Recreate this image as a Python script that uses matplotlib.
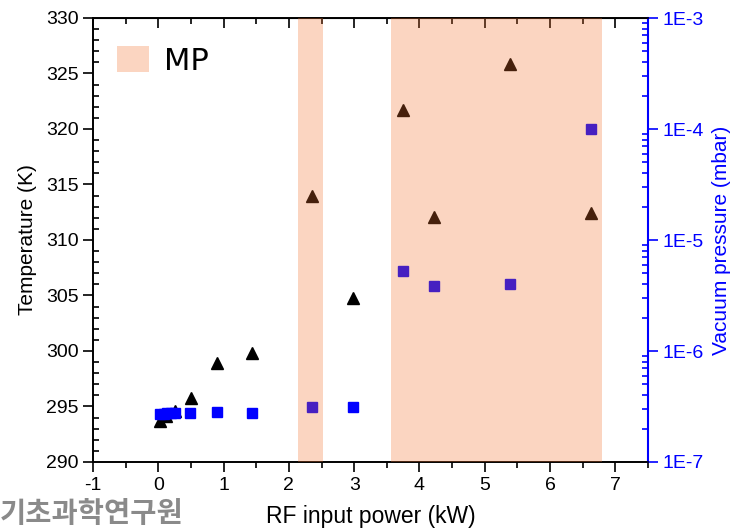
import matplotlib
matplotlib.use("Agg")
import matplotlib.pyplot as plt
import numpy as np
from matplotlib.ticker import FuncFormatter, LogLocator, MultipleLocator, NullFormatter
from matplotlib.patches import Patch

plt.rcParams['font.family'] = ['Liberation Sans', 'DejaVu Sans']
plt.rcParams['axes.unicode_minus'] = False

# Temperature data (triangles)
temp_power = [0.03, 0.12, 0.26, 0.5, 0.9, 1.44, 2.35, 2.98, 3.75, 4.23, 5.38, 6.63]
temp_K = [293.7, 294.1, 294.6, 295.8, 298.9, 299.8, 314.0, 304.8, 321.7, 312.1, 325.9, 312.4]

# Vacuum pressure data (squares)
pres_power = [0.02, 0.08, 0.14, 0.2, 0.26, 0.48, 0.9, 1.44, 2.35, 2.98, 3.75, 4.23, 5.38, 6.63]
pres_mbar = [2.7e-7, 2.7e-7, 2.75e-7, 2.75e-7, 2.75e-7, 2.75e-7, 2.8e-7, 2.75e-7,
             3.1e-7, 3.15e-7, 5.3e-6, 3.85e-6, 4.0e-6, 1.0e-4]

# MP shaded regions
mp_regions = [(2.14, 2.52), (3.56, 6.79)]

fig = plt.figure(figsize=(7.32, 5.32), dpi=100)
ax = fig.add_axes([93/732, 70/532, (648-93)/732, (462-18)/532])
ax2 = ax.twinx()

ax.plot(temp_power, temp_K, linestyle='none', marker='^', color='black', markersize=8.5, zorder=3)
ax2.plot(pres_power, pres_mbar, linestyle='none', marker='s', color='#0000ff', markersize=7, zorder=3)

span_color = (0.95, 0.44, 0.17)
span_alpha = 0.29
for (a, b) in mp_regions:
    ax2.axvspan(a, b, color=span_color, alpha=span_alpha, lw=0, zorder=5)

ax.set_xlim(-1, 7.5)
ax.set_ylim(290, 330)
ax2.set_yscale('log')
ax2.set_ylim(1e-7, 1e-3)

ax.xaxis.set_major_locator(MultipleLocator(1))
ax.xaxis.set_minor_locator(MultipleLocator(0.5))
ax.yaxis.set_major_locator(MultipleLocator(5))
ax.yaxis.set_minor_locator(MultipleLocator(1))

ax.tick_params(axis='x', which='major', direction='out', length=7, width=1.2, labelsize=14, top=False)
ax.tick_params(axis='x', which='minor', direction='out', length=4, width=1.2, top=False)
ax.tick_params(axis='y', which='major', direction='out', length=7, width=1.2, labelsize=14)
ax.tick_params(axis='y', which='minor', direction='in', length=4, width=1.2)

# top ticks inward via secondary axis
secx = ax.secondary_xaxis('top')
secx.xaxis.set_major_locator(MultipleLocator(1))
secx.xaxis.set_minor_locator(MultipleLocator(0.5))
secx.tick_params(axis='x', which='major', direction='in', length=7, width=1.2, labeltop=False)
secx.tick_params(axis='x', which='minor', direction='in', length=4, width=1.2)
secx.set_xticklabels([])

ax2.yaxis.set_major_locator(LogLocator(base=10, numticks=10))
ax2.yaxis.set_minor_locator(LogLocator(base=10, subs=np.arange(2, 10), numticks=20))
ax2.yaxis.set_major_formatter(FuncFormatter(lambda v, p: '1E%d' % int(round(np.log10(v)))))
ax2.yaxis.set_minor_formatter(NullFormatter())
ax2.tick_params(axis='y', which='major', direction='out', length=7, width=1.2, labelsize=14,
                colors='#0000ff')
ax2.tick_params(axis='y', which='minor', direction='in', length=4, width=1.2, colors='#0000ff')
ax2.spines['right'].set_color('#0000ff')
ax2.spines['right'].set_linewidth(1.5)
for s in ['left', 'top', 'bottom']:
    ax.spines[s].set_linewidth(1.2)
    ax2.spines[s].set_linewidth(1.2)
ax.spines['right'].set_visible(False)

ax.set_ylabel('Temperature (K)', fontsize=15, labelpad=6)
ax2.set_ylabel('Vacuum pressure (mbar)', fontsize=15, color='#0000ff', labelpad=6)
ax.set_xlabel('RF input power (kW)', fontsize=16.5, labelpad=8)

leg = ax.legend(handles=[Patch(facecolor=span_color, alpha=span_alpha, edgecolor='none', label='MP')],
                loc='upper left', frameon=False, prop={'family': 'DejaVu Sans', 'size': 22},
                handlelength=1.05, handleheight=0.95, handletextpad=0.5,
                bbox_to_anchor=(0.004, 0.985), borderaxespad=0.3)

fig.text(0.0, 0.008, '기초과학연구원', fontsize=20.5, fontweight='bold', color='#8a8a8a',
         family=['Noto Sans CJK KR', 'DejaVu Sans'], ha='left', va='bottom')

fig.savefig('out.png', dpi=100)
